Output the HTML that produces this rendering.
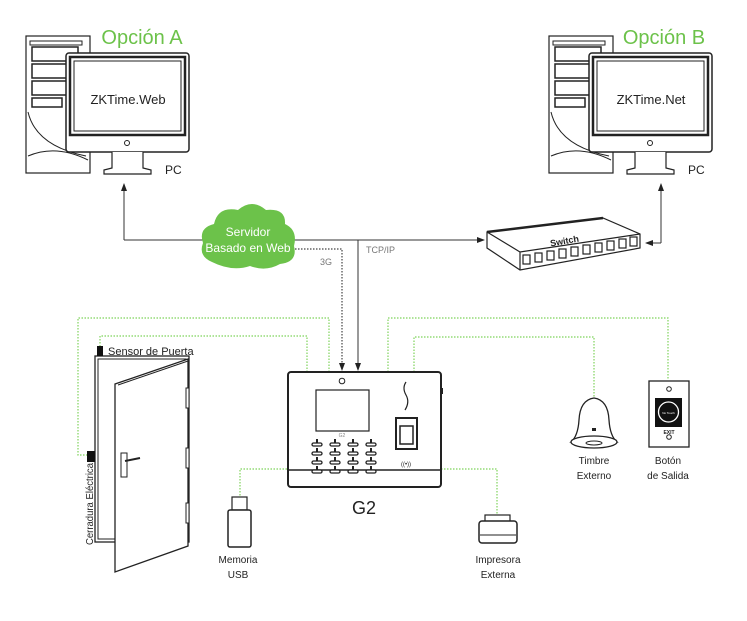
<!DOCTYPE html>
<html><head><meta charset="utf-8"><style>
html,body{margin:0;padding:0;background:#fff}
svg{display:block;font-family:"Liberation Sans",sans-serif}
</style></head><body>
<svg width="747" height="621" viewBox="0 0 747 621" xmlns="http://www.w3.org/2000/svg">
<defs>
<marker id="ar" markerWidth="8" markerHeight="8" refX="7" refY="4" orient="auto" markerUnits="userSpaceOnUse"><path d="M0,1 L8,4 L0,7 z" fill="#222"/></marker>
<g id="pc">
 <rect x="0" y="0" width="64" height="137" fill="#fff" stroke="#222" stroke-width="1.2"/>
 <rect x="4" y="5" width="52" height="4" fill="#fff" stroke="#222"/>
 <rect x="6" y="11" width="46" height="14" fill="#fff" stroke="#222" stroke-width="1.5"/>
 <rect x="6" y="28" width="46" height="14" fill="#fff" stroke="#222" stroke-width="1.5"/>
 <rect x="6" y="45" width="46" height="14" fill="#fff" stroke="#222" stroke-width="1.5"/>
 <rect x="6" y="62" width="30" height="9" fill="#fff" stroke="#222" stroke-width="1.5"/>
 <path d="M2,76 Q10,110 60,120 M2,120 Q30,108 62,124" fill="none" stroke="#222"/>
 <rect x="40" y="17" width="123" height="99" rx="3" fill="#fff" stroke="#222" stroke-width="1.5"/>
 <rect x="44" y="21" width="115" height="78" fill="#fff" stroke="#222" stroke-width="2.5"/>
 <rect x="48" y="25" width="107" height="70" fill="#fff" stroke="#222" stroke-width="1"/>
 <circle cx="101" cy="107" r="2.5" fill="#fff" stroke="#222"/>
 <path d="M86,116 L86,132 L78,134 L78,138 L125,138 L125,134 L117,132 L117,116" fill="#fff" stroke="#222" stroke-width="1.2"/>
</g>
</defs>

<use href="#pc" x="26" y="36"/>
<use href="#pc" x="549" y="36"/>
<text x="142" y="44" font-size="20" fill="#6cc24a" text-anchor="middle">Opción A</text>
<text x="664" y="44" font-size="20" fill="#6cc24a" text-anchor="middle">Opción B</text>
<text x="128" y="104" font-size="13" fill="#222" text-anchor="middle">ZKTime.Web</text>
<text x="651" y="104" font-size="13" fill="#222" text-anchor="middle">ZKTime.Net</text>
<text x="165" y="174" font-size="12" fill="#222">PC</text>
<text x="688" y="174" font-size="12" fill="#222">PC</text>

<path d="M124,240 L124,184" stroke="#333" stroke-width="1" fill="none" marker-end="url(#ar)"/>
<path d="M124,240 L484,240" stroke="#333" stroke-width="1" fill="none" marker-end="url(#ar)"/>
<path d="M661,243 L661,184" stroke="#333" stroke-width="1" fill="none" marker-end="url(#ar)"/>
<path d="M661,243 L646,243" stroke="#333" stroke-width="1" fill="none" marker-end="url(#ar)"/>
<path d="M358,240 L358,370" stroke="#333" stroke-width="1" fill="none" marker-end="url(#ar)"/>
<path d="M292,249 L342,249 L342,370" stroke="#444" stroke-width="1.2" stroke-dasharray="1.5,1.5" fill="none" marker-end="url(#ar)"/>
<text x="320" y="265" font-size="9" fill="#777">3G</text>
<text x="366" y="253" font-size="9" fill="#777">TCP/IP</text>

<path d="M212,262 Q198,256 203,243 Q198,228 214,224 Q218,206 238,210 Q252,198 266,210 Q286,208 285,224 Q298,230 294,246 Q298,262 280,264 Q266,272 250,266 Q232,272 212,262 z" fill="#6cc24a"/>
<text x="248" y="236" font-size="12" fill="#fff" text-anchor="middle">Servidor</text>
<text x="248" y="252" font-size="12" fill="#fff" text-anchor="middle">Basado en Web</text>

<path d="M487,232 L603,218 L640,234 L640,248 L520,270 L487,248 z" fill="#fff" stroke="#222" stroke-width="1.2"/>
<path d="M487,232 L520,252 L640,234 M520,252 L520,270" fill="none" stroke="#222" stroke-width="1.2"/>
<path d="M487,232 L603,218" stroke="#222" stroke-width="2.5"/>
<text x="565" y="244" font-size="9" font-weight="bold" fill="#222" transform="rotate(-10 565 244)" text-anchor="middle">Switch</text>
<g stroke="#222" stroke-width="1.2" fill="#fff">
<rect x="523" y="255" width="7" height="9"/><rect x="535" y="253" width="7" height="9"/><rect x="547" y="251" width="7" height="9"/><rect x="559" y="249" width="7" height="9"/><rect x="571" y="247" width="7" height="9"/><rect x="583" y="245" width="7" height="9"/><rect x="595" y="243" width="7" height="9"/><rect x="607" y="241" width="7" height="9"/><rect x="619" y="239" width="7" height="9"/><rect x="630" y="237" width="7" height="9"/>
</g>

<g stroke="#7ed35a" stroke-width="1.2" stroke-dasharray="1.5,1.5" fill="none">
<path d="M329,372 L329,318 L78,318 L78,455 L88,455"/>
<path d="M307,372 L307,336 L100,336 L100,350"/>
<path d="M388,372 L388,318 L668,318 L668,380"/>
<path d="M414,372 L414,337 L594,337 L594,398"/>
<path d="M287,469 L240,469 L240,498"/>
<path d="M441,469 L497,469 L497,515"/>
</g>

<rect x="95" y="356" width="94" height="186" fill="#fff" stroke="#222" stroke-width="1.3"/>
<rect x="98" y="359" width="88" height="180" fill="none" stroke="#222" stroke-width="1"/>
<path d="M115,384 L188,359 L188,546 L115,572 z" fill="#fff" stroke="#222" stroke-width="1.3"/>
<path d="M118,385 L188,361" stroke="#222"/>
<rect x="186" y="388" width="3" height="20" fill="#fff" stroke="#222"/>
<rect x="186" y="448" width="3" height="20" fill="#fff" stroke="#222"/>
<rect x="186" y="503" width="3" height="20" fill="#fff" stroke="#222"/>
<rect x="121" y="453" width="6" height="24" fill="#fff" stroke="#222"/>
<path d="M125,461 L140,458" stroke="#222" stroke-width="2"/>
<rect x="97" y="346" width="6" height="10" fill="#111"/>
<rect x="87" y="451" width="8" height="11" fill="#111"/>
<text x="108" y="355" font-size="11" fill="#222">Sensor de Puerta</text>
<text x="0" y="0" font-size="10" fill="#222" textLength="82" lengthAdjust="spacingAndGlyphs" transform="translate(93,545) rotate(-90)">Cerradura Eléctrica</text>

<rect x="288" y="372" width="153" height="115" rx="3" fill="#fff" stroke="#222" stroke-width="2"/>
<path d="M288,470 L441,470" stroke="#222" stroke-width="1.5"/>
<rect x="441" y="388" width="2" height="6" fill="#222"/>
<circle cx="342" cy="381" r="2.8" fill="#fff" stroke="#222"/>
<rect x="316" y="390" width="53" height="41" fill="#fff" stroke="#222" stroke-width="1.2"/>
<text x="342" y="437" font-size="5" fill="#888" text-anchor="middle">G2</text>
<path d="M406,382 Q402,388 406,395 Q410,402 405,410" fill="none" stroke="#222" stroke-width="1.2"/>
<rect x="396" y="418" width="21" height="31" fill="#fff" stroke="#222" stroke-width="2"/>
<rect x="400" y="426" width="13" height="18" fill="#fff" stroke="#222" stroke-width="1.5"/>
<text x="406" y="466" font-size="6" fill="#222" text-anchor="middle">((•))</text>
<g fill="#fff" stroke="#222" stroke-width="1.3">
<rect x="312" y="443" width="10" height="3" rx="1.5"/><rect x="330" y="443" width="10" height="3" rx="1.5"/><rect x="348" y="443" width="10" height="3" rx="1.5"/><rect x="366" y="443" width="10" height="3" rx="1.5"/>
<rect x="312" y="452" width="10" height="3" rx="1.5"/><rect x="330" y="452" width="10" height="3" rx="1.5"/><rect x="348" y="452" width="10" height="3" rx="1.5"/><rect x="366" y="452" width="10" height="3" rx="1.5"/>
<rect x="312" y="461" width="10" height="3" rx="1.5"/><rect x="330" y="461" width="10" height="3" rx="1.5"/><rect x="348" y="461" width="10" height="3" rx="1.5"/><rect x="366" y="461" width="10" height="3" rx="1.5"/>
<rect x="312" y="470" width="10" height="3" rx="1.5"/><rect x="330" y="470" width="10" height="3" rx="1.5"/><rect x="348" y="470" width="10" height="3" rx="1.5"/><rect x="366" y="470" width="10" height="3" rx="1.5"/>
</g>
<g fill="#222">
<rect x="316" y="439" width="2" height="4"/><rect x="334" y="439" width="2" height="4"/><rect x="352" y="439" width="2" height="4"/><rect x="370" y="439" width="2" height="4"/>
<rect x="316" y="448" width="2" height="4"/><rect x="334" y="448" width="2" height="4"/><rect x="352" y="448" width="2" height="4"/><rect x="370" y="448" width="2" height="4"/>
<rect x="316" y="457" width="2" height="4"/><rect x="334" y="457" width="2" height="4"/><rect x="352" y="457" width="2" height="4"/><rect x="370" y="457" width="2" height="4"/>
<rect x="316" y="466" width="2" height="4"/><rect x="334" y="466" width="2" height="4"/><rect x="352" y="466" width="2" height="4"/><rect x="370" y="466" width="2" height="4"/>
</g>
<text x="364" y="514" font-size="18" fill="#222" text-anchor="middle">G2</text>

<rect x="232" y="497" width="15" height="13" fill="#fff" stroke="#222" stroke-width="1.2"/>
<rect x="228" y="510" width="23" height="37" rx="2" fill="#fff" stroke="#222" stroke-width="1.5"/>
<text x="238" y="563" font-size="10" fill="#222" text-anchor="middle">Memoria</text>
<text x="238" y="578" font-size="10" fill="#222" text-anchor="middle">USB</text>

<rect x="485" y="515" width="25" height="8" fill="#fff" stroke="#222" stroke-width="1.2"/>
<rect x="479" y="521" width="38" height="22" rx="3" fill="#fff" stroke="#222" stroke-width="1.5"/>
<path d="M480,535 L516,535" stroke="#222"/>
<text x="498" y="563" font-size="10" fill="#222" text-anchor="middle">Impresora</text>
<text x="498" y="578" font-size="10" fill="#222" text-anchor="middle">Externa</text>

<path d="M594,398 Q580,400 579,420 Q578,436 571,442 L617,442 Q610,436 609,420 Q608,400 594,398 z" fill="#fff" stroke="#222" stroke-width="1.3"/>
<ellipse cx="594" cy="442" rx="23" ry="6" fill="#fff" stroke="#222" stroke-width="1.3"/>
<ellipse cx="594" cy="443" rx="8" ry="2" fill="none" stroke="#222"/>
<rect x="592" y="428" width="4" height="3" fill="#222"/>
<text x="594" y="464" font-size="10" fill="#222" text-anchor="middle">Timbre</text>
<text x="594" y="479" font-size="10" fill="#222" text-anchor="middle">Externo</text>

<rect x="649" y="381" width="40" height="66" fill="#fff" stroke="#222" stroke-width="1.3"/>
<circle cx="669" cy="389" r="2.3" fill="#fff" stroke="#222"/>
<rect x="655" y="398" width="27" height="29" fill="#111"/>
<circle cx="668.5" cy="412" r="10" fill="none" stroke="#fff" stroke-width="1.3"/>
<text x="668.5" y="414" font-size="3" fill="#fff" text-anchor="middle">No Touch</text>
<text x="669" y="434" font-size="5" font-weight="bold" fill="#222" text-anchor="middle">EXIT</text>
<circle cx="669" cy="437" r="2.3" fill="#fff" stroke="#222"/>
<text x="668" y="464" font-size="10" fill="#222" text-anchor="middle">Botón</text>
<text x="668" y="479" font-size="10" fill="#222" text-anchor="middle">de Salida</text>
</svg>
</body></html>
